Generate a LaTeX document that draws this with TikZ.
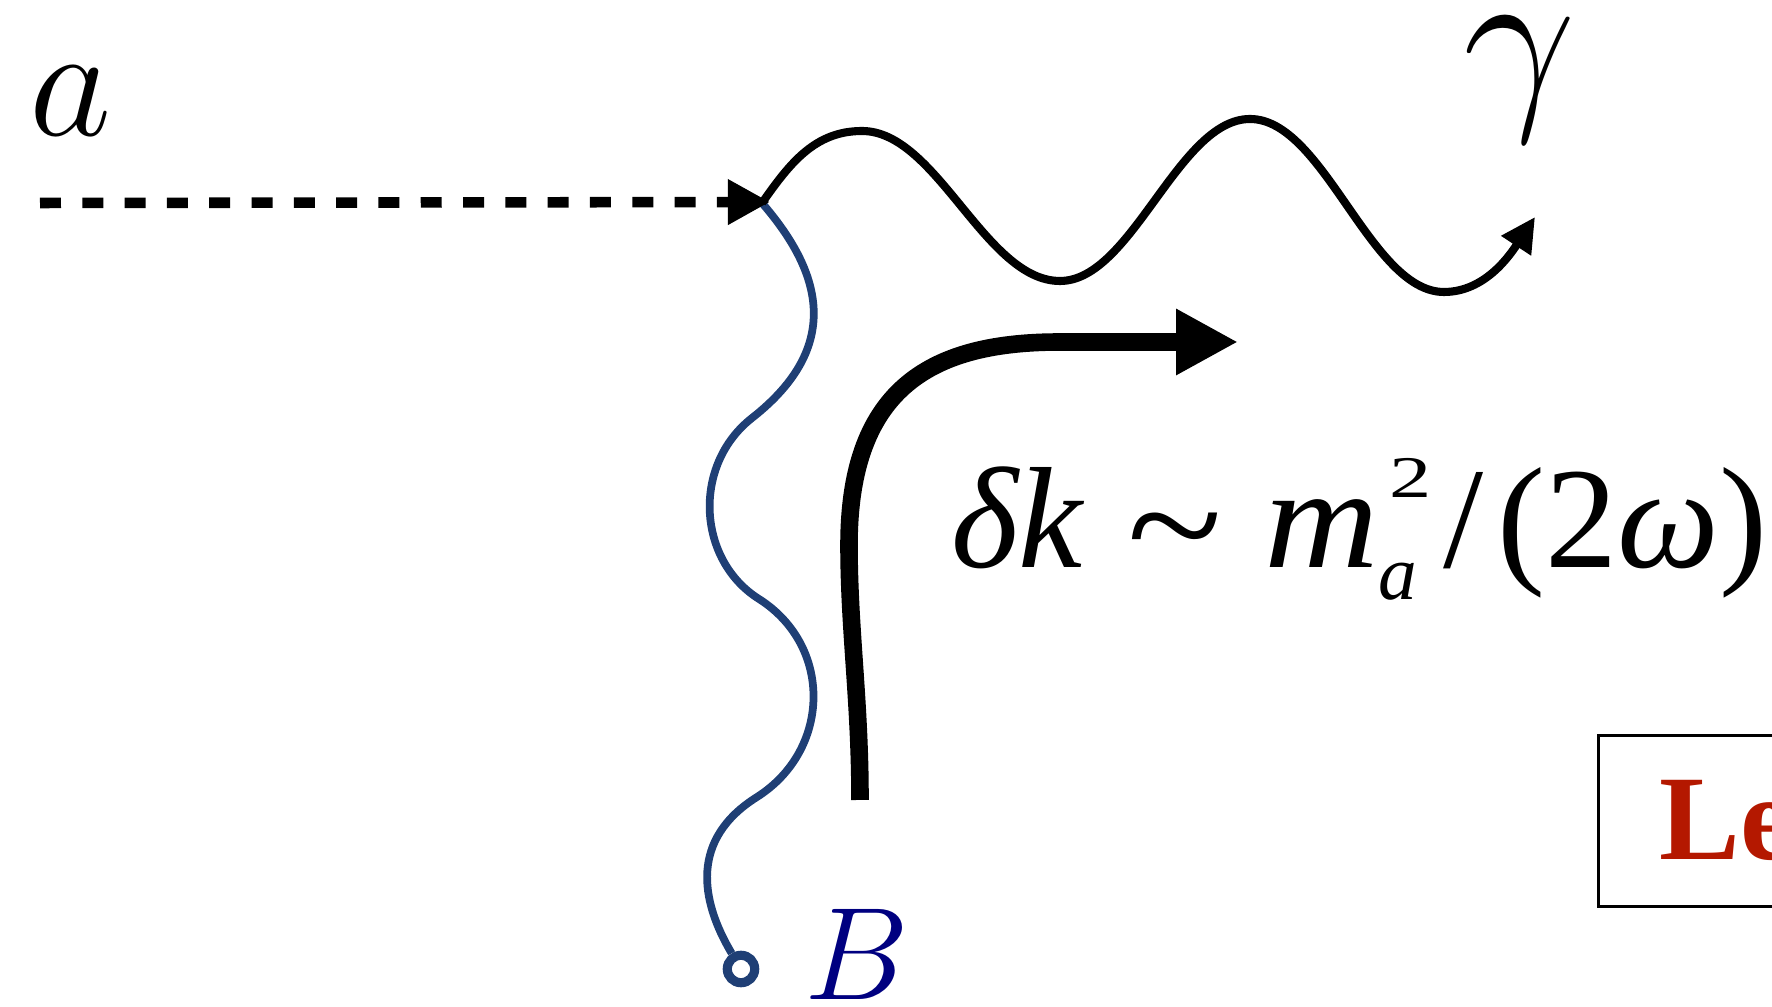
\documentclass[tikz,border=0pt]{standalone}
\usepackage{fix-cm}
\usepackage{fontspec}
\usepackage{tikz}
\usetikzlibrary{arrows.meta}
\newfontfamily\timesfont{Liberation Serif}
\definecolor{fieldblue}{RGB}{31,63,117}
\definecolor{labelred}{RGB}{180,24,0}
\definecolor{bnavy}{RGB}{0,0,128}

\begin{document}
\begin{tikzpicture}[x=0.01cm, y=-0.01cm,
  lbl/.style={inner sep=0pt, anchor=base},
  axline/.style={line width=3pt, dash pattern=on 5.97pt off 6.06pt,
                 -{Triangle[length=12pt,width=12.2pt]}},
  photon/.style={line width=2.3pt, -{Triangle[length=9.8pt,width=9.6pt]}},
  bline/.style={line width=2.2pt, draw=fieldblue},
  endpt/.style={circle, draw=fieldblue, line width=2.6pt, fill=white,
                inner sep=0pt, minimum size=7.8pt},
  bigarrow/.style={line width=5pt, -{Triangle[length=17.6pt,width=17.6pt]}},
  tag/.style={draw, line width=0.8pt, anchor=north west, minimum height=48.65pt,
              text width=80pt, inner xsep=17.4pt, align=left, text=labelred,
              font=\timesfont\bfseries\fontsize{34.4pt}{36pt}\selectfont}
]
\useasboundingbox (0,0) rectangle (1772,1007);

\coordinate (astart) at (40,203);
\coordinate (atip) at (770,202);
\coordinate (vtx) at (762,203);
\coordinate (gend) at (1535,217);
\coordinate (kstart) at (860,800);
\coordinate (kend) at (1238,342);
\node[endpt] (bend) at (741,969) {};

\node[lbl, font=\fontsize{45.5pt}{50pt}\selectfont] (alab) at (71,136) {$a$};
\node[lbl, font=\fontsize{57pt}{60pt}\selectfont] (glab) at (1520,104) {$\gamma$};
\node[lbl, text=bnavy, font=\fontsize{37.5pt}{40pt}\selectfont] (blab) at (857,1000) {$B$};
\node[lbl, anchor=base west, font=\timesfont\fontsize{41pt}{45pt}\selectfont] (dk) at (951,568)
  {\textit{δk}\hspace{12pt}\raisebox{-3pt}{\scalebox{1.22}[1.1]{\textasciitilde}}\hspace{12pt}\scalebox{1.1}[1]{\textit{m}}\makebox[18.5pt][l]{\rlap{\hspace{3pt}\raisebox{20pt}{\scalebox{1}[0.7]{\fontsize{24pt}{24pt}\selectfont 2}}}\raisebox{-9pt}{\fontsize{22pt}{22pt}\selectfont\itshape a}}/\hspace{3.9pt}(2\textit{ω})};
\node[tag] (lev) at (1597,734) {Le};

\draw[bline] (vtx) .. controls (820,270) and (845,345) .. (752,418)
  .. controls (692,465) and (697,560) .. (759,599)
  .. controls (833,646) and (831,750) .. (757,797)
  .. controls (690,839) and (700,900) .. (bend);
\draw[axline] (astart) -- (atip);
\draw[photon] (vtx) .. controls (790,163) and (815,131) .. (862,131)
  .. controls (937,131) and (985,281) .. (1060,281)
  .. controls (1132,281) and (1178,119) .. (1250,119)
  .. controls (1324,119) and (1370,292) .. (1444,292)
  .. controls (1485,292) and (1510,255) .. (gend);
\draw[bigarrow] (kstart) .. controls (860,700) and (849,630) .. (849,545)
  .. controls (849,385) and (935,342) .. (1060,342) -- (kend);
\end{tikzpicture}
\end{document}
